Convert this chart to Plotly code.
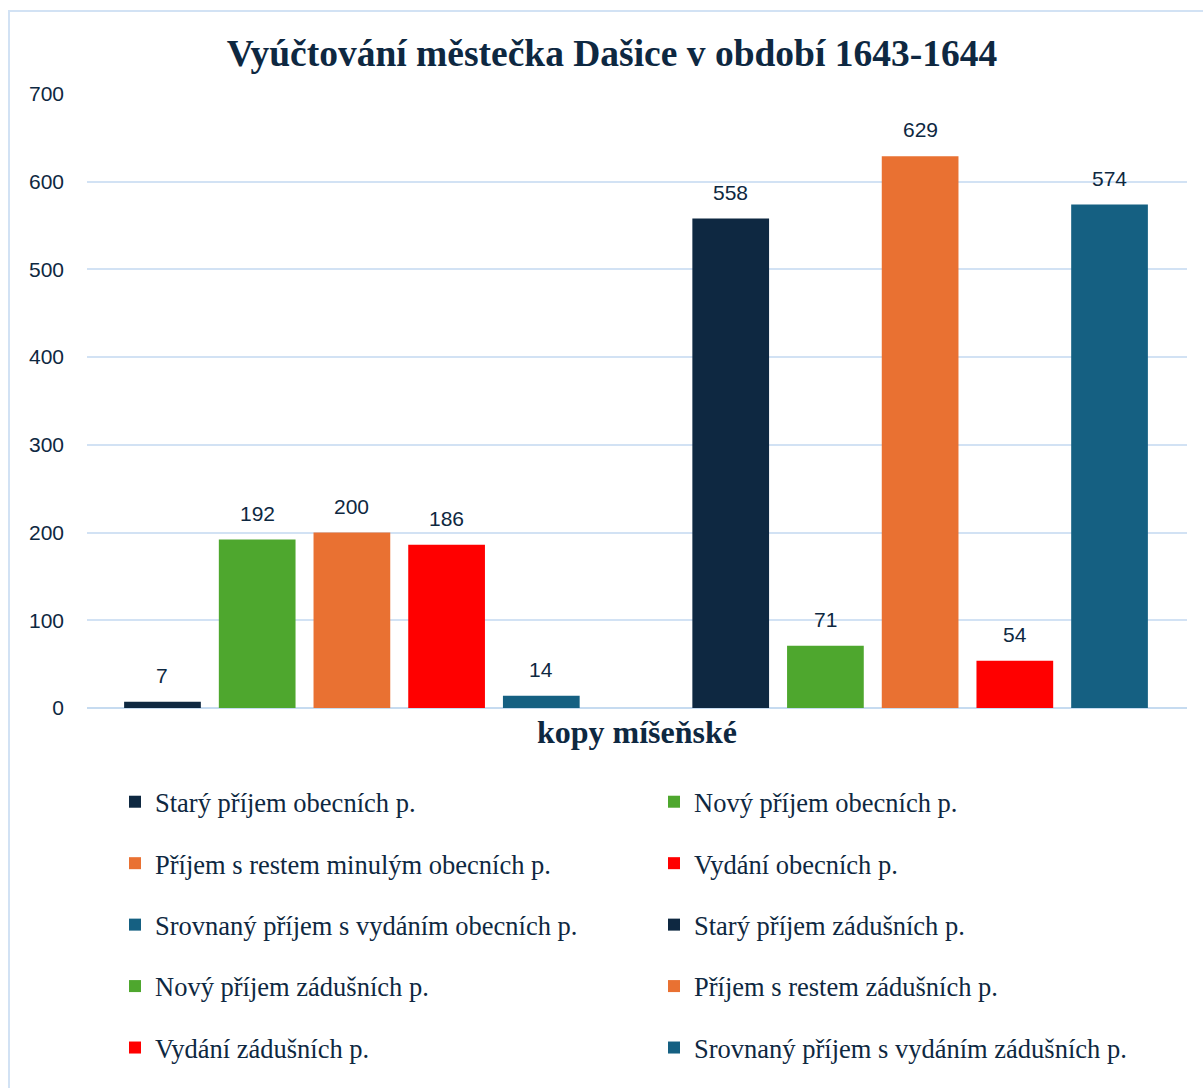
import plotly.graph_objects as go

# Series of the chart (one bar per series), amounts in "kopy míšeňské"
series_names = [
    "Starý příjem obecních p.",
    "Příjem s restem minulým obecních p.",
    "Srovnaný příjem s vydáním obecních p.",
    "Nový příjem zádušních p.",
    "Vydání zádušních p.",
    "Nový příjem obecních p.",
    "Vydání obecních p.",
    "Starý příjem zádušních p.",
    "Příjem s restem zádušních p.",
    "Srovnaný příjem s vydáním zádušních p.",
]
values = [7, 200, 14, 71, 54, 192, 186, 558, 629, 574]
# slot of each bar along the axis (slot 5 stays empty between the two groups)
slots = [0, 2, 4, 7, 9, 1, 3, 6, 8, 10]
colors = ["#0e2841", "#e97132", "#156082", "#4ea72e", "#ff0000",
          "#4ea72e", "#ff0000", "#0e2841", "#e97132", "#156082"]
# legend column of each series (left column / right column)
legend_ids = ["legend"] * 5 + ["legend2"] * 5

y_ticks = [0, 100, 200, 300, 400, 500, 600, 700]

TEXT = "#0e2841"
GRID = "#d2e2f4"
ZERO = "#c6dbf0"

fig = go.Figure()
for name, v, s, c, lg in zip(series_names, values, slots, colors, legend_ids):
    fig.add_trace(go.Bar(
        x=[s], y=[v], name=name, width=0.81,
        marker=dict(color=c, line=dict(width=0)),
        legend=lg, legendgroup=name,
        hoverinfo="skip",
    ))
    fig.add_annotation(
        x=s, y=v, text=str(v), showarrow=False,
        yanchor="bottom", yshift=13,
        font=dict(family="Liberation Sans, Arial, sans-serif", size=21, color=TEXT),
    )

W, H = 1203, 1088
L, R, T, B = 87, 16, 94, 380
pw, ph = W - L - R, H - T - B

def px_x(p):
    return (p - L) / pw

def px_y(p):
    return (H - B - p) / ph

legend_common = dict(
    orientation="v",
    font=dict(family="Liberation Serif, Times New Roman, serif", size=26.5, color=TEXT),
    bgcolor="rgba(0,0,0,0)",
    tracegroupgap=24,
    itemclick=False, itemdoubleclick=False,
    xanchor="left", yanchor="top",
)

fig.update_layout(
    width=W, height=H,
    margin=dict(l=L, r=R, t=T, b=B, autoexpand=False),
    paper_bgcolor="white", plot_bgcolor="white",
    barmode="overlay",
    showlegend=True,
    title=dict(
        text="<b>Vyúčtování městečka Dašice v období 1643-1644</b>",
        x=612 / W, xref="container", xanchor="center",
        y=1 - 53 / H, yref="container", yanchor="middle",
        font=dict(family="Liberation Serif, Times New Roman, serif", size=37.5, color=TEXT),
    ),
    xaxis=dict(
        range=[-0.797, 10.818],
        showticklabels=False, showgrid=False, zeroline=False,
        ticks="", fixedrange=True, automargin=False,
        title=dict(
            text="<b>kopy míšeňské</b>", standoff=12,
            font=dict(family="Liberation Serif, Times New Roman, serif", size=32, color=TEXT),
        ),
    ),
    yaxis=dict(
        range=[0, 700], tickvals=y_ticks,
        showgrid=True, gridcolor=GRID, gridwidth=2,
        zeroline=True, zerolinecolor=ZERO, zerolinewidth=2,
        ticks="", ticklabelstandoff=22, automargin=False,
        tickfont=dict(family="Liberation Sans, Arial, sans-serif", size=21, color=TEXT),
        fixedrange=True,
    ),
    legend=dict(x=px_x(115), y=px_y(778), **legend_common),
    legend2=dict(x=px_x(654), y=px_y(778), **legend_common),
    shapes=[dict(
        type="rect", xref="paper", yref="paper",
        x0=px_x(9), x1=px_x(1225), y0=px_y(1110), y1=px_y(11),
        line=dict(color=GRID, width=2), fillcolor="rgba(0,0,0,0)", layer="below",
    )],
)

fig.write_html("out.html")
